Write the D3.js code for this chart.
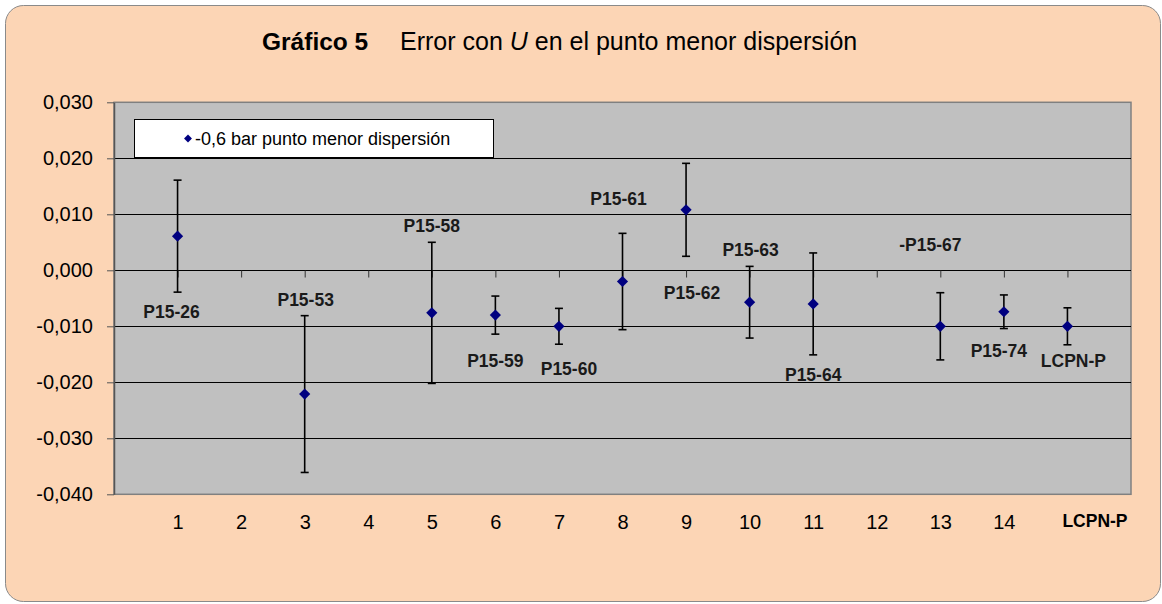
<!DOCTYPE html>
<html>
<head>
<meta charset="utf-8">
<script src="https://cdn.jsdelivr.net/npm/d3@7"></script>
<style>
  html, body { margin: 0; padding: 0; background: #ffffff; }
  svg { display: block; font-family: "Liberation Sans", Arial, sans-serif; }
</style>
</head>
<body>
<svg id="chart" width="1162" height="604"></svg>
<script>
// ---- data ----
const categories = [1, 2, 3, 4, 5, 6, 7, 8, 9, 10, 11, 12, 13, 14, 15];
const xTickLabels = ["1", "2", "3", "4", "5", "6", "7", "8", "9", "10", "11", "12", "13", "14", "LCPN-P"];
const values = [0.0061, null, -0.0221, null, -0.0076, -0.0080, -0.0100, -0.0020, 0.0108, -0.0057, -0.0060, null, -0.0100, -0.0074, -0.0100];
const errors = [0.0100, null, 0.0140, null, 0.0126, 0.0034, 0.0032, 0.0086, 0.0083, 0.0064, 0.0091, null, 0.0060, 0.0030, 0.0033];
const pointLabels = ["P15-26", null, "P15-53", null, "P15-58", "P15-59", "P15-60", "P15-61", "P15-62", "P15-63", "P15-64", null, "-P15-67", "P15-74", "LCPN-P"];
const yTicks = [-0.04, -0.03, -0.02, -0.01, 0, 0.01, 0.02, 0.03];
const seriesName = "-0,6 bar punto menor dispersión";

// ---- layout (pixel offsets of data labels relative to their point) ----
const labelOffsets = [[-6, 76], null, [1, -94], null, [0, -87], [0, 46], [10, 42], [-4, -83], [6, 83], [1, -53], [0, 71], null, [-10, -82], [-5, 39], [6, 34]];

const svg = d3.select("#chart");
const W = 1162, H = 604;
const plot = { left: 114, right: 1131, top: 102.3, bottom: 494.3 };

// background frame
svg.append("rect").attr("x", 5.5).attr("y", 5.5).attr("width", W - 7).attr("height", H - 8)
  .attr("rx", 18).attr("ry", 18)
  .attr("fill", "#FCD5B5").attr("stroke", "#8a8a8a").attr("stroke-width", 1);

// title
const title = svg.append("text").attr("x", 262).attr("y", 50).attr("font-size", 25).attr("fill", "#000");
title.append("tspan").attr("font-weight", "bold").attr("font-size", 24.5).text("Gráfico 5");
title.append("tspan").attr("x", 400).text("Error con ");
title.append("tspan").attr("font-style", "italic").text("U");
title.append("tspan").text(" en el punto menor dispersión");

const x = d3.scaleLinear().domain([0, 16]).range([plot.left, plot.right]);
const y = d3.scaleLinear().domain([-0.04, 0.03]).range([plot.bottom, plot.top]);

// plot area
svg.append("rect").attr("x", plot.left).attr("y", plot.top)
  .attr("width", plot.right - plot.left).attr("height", plot.bottom - plot.top)
  .attr("fill", "#C0C0C0").attr("stroke", "#808080").attr("stroke-width", 1.5);

// gridlines
svg.append("g").selectAll("line").data(yTicks.filter(d => d > -0.04 && d < 0.03)).join("line")
  .attr("x1", plot.left).attr("x2", plot.right)
  .attr("y1", d => Math.round(y(d)) + 0.5).attr("y2", d => Math.round(y(d)) + 0.5)
  .attr("stroke", "#000").attr("stroke-width", 1);

// y axis
const fmt = d => d3.format(".3f")(d).replace(".", ",").replace("−", "-");
const yAxis = svg.append("g").attr("transform", `translate(${plot.left},0)`)
  .call(d3.axisLeft(y).tickValues(yTicks).tickFormat(fmt).tickSize(7).tickSizeOuter(0).tickPadding(14));
yAxis.select(".domain").attr("stroke", "#555").attr("stroke-width", 1.5);
yAxis.selectAll(".tick line").attr("stroke", "#555");
yAxis.selectAll("text").attr("font-size", 20).attr("fill", "#000")
  .attr("font-family", "'Liberation Sans', Arial, sans-serif");

// x tick marks on zero line
const xTickAxis = svg.append("g").attr("transform", `translate(0,${Math.round(y(0)) + 0.5})`)
  .call(d3.axisBottom(x).tickValues(categories).tickFormat("").tickSize(7).tickSizeOuter(0));
xTickAxis.select(".domain").remove();
xTickAxis.selectAll(".tick line").attr("stroke", "#333");

// x tick labels at bottom
const xLabelAxis = svg.append("g").attr("transform", `translate(0,${plot.bottom})`)
  .call(d3.axisBottom(x).tickValues(categories).tickFormat((d, i) => xTickLabels[i]).tickSize(0).tickPadding(20.5));
xLabelAxis.select(".domain").remove();
xLabelAxis.selectAll("text")
  .attr("font-family", "'Liberation Sans', Arial, sans-serif")
  .attr("fill", "#000")
  .attr("font-size", (d, i) => i === xTickLabels.length - 1 ? 17.5 : 20)
  .attr("font-weight", (d, i) => i === xTickLabels.length - 1 ? "bold" : "normal")
  .attr("dx", (d, i) => i === xTickLabels.length - 1 ? 27 : 0);

// data
const pts = categories.map((c, i) => ({ c, v: values[i], e: errors[i], label: pointLabels[i], off: labelOffsets[i] }))
  .filter(d => d.v !== null);

// error bars
const eb = svg.append("g").attr("stroke", "#000").attr("stroke-width", 1.6);
eb.selectAll(".stem").data(pts).join("line")
  .attr("x1", d => x(d.c)).attr("x2", d => x(d.c))
  .attr("y1", d => y(d.v + d.e)).attr("y2", d => y(d.v - d.e));
eb.selectAll(".capt").data(pts).join("line")
  .attr("x1", d => x(d.c) - 4).attr("x2", d => x(d.c) + 4)
  .attr("y1", d => y(d.v + d.e)).attr("y2", d => y(d.v + d.e));
eb.selectAll(".capb").data(pts).join("line")
  .attr("x1", d => x(d.c) - 4).attr("x2", d => x(d.c) + 4)
  .attr("y1", d => y(d.v - d.e)).attr("y2", d => y(d.v - d.e));

// markers
const diamond = d3.symbol().type(d3.symbolDiamond2).size(80);
svg.append("g").selectAll("path").data(pts).join("path")
  .attr("d", diamond)
  .attr("transform", d => `translate(${x(d.c)},${y(d.v)})`)
  .attr("fill", "#000080");

// data labels
svg.append("g").selectAll("text").data(pts).join("text")
  .attr("x", d => x(d.c) + d.off[0]).attr("y", d => y(d.v) + d.off[1])
  .attr("dy", "0.36em")
  .attr("text-anchor", "middle")
  .attr("font-size", 17.5).attr("font-weight", "bold").attr("fill", "#1a1a1a")
  .text(d => d.label);

// legend
const lg = svg.append("g");
lg.append("rect").attr("x", 134.5).attr("y", 119.5).attr("width", 359).attr("height", 38)
  .attr("fill", "#fff").attr("stroke", "#000").attr("stroke-width", 1);
lg.append("path").attr("d", d3.symbol().type(d3.symbolDiamond2).size(40))
  .attr("transform", "translate(188,138.5)").attr("fill", "#000080");
lg.append("text").attr("x", 195).attr("y", 138.5).attr("dy", "0.36em")
  .attr("font-size", 18).attr("fill", "#000").text(seriesName);
</script>
</body>
</html>
